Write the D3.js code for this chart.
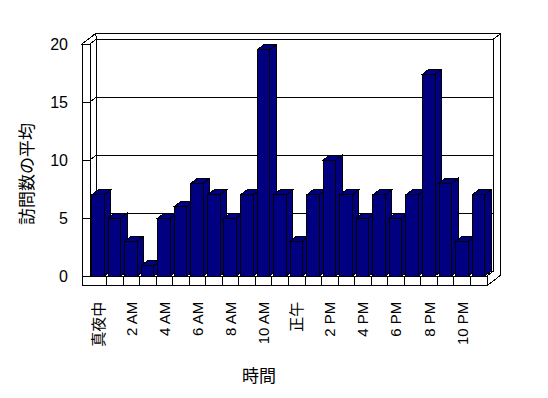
<!DOCTYPE html>
<html>
<head>
<meta charset="utf-8">
<script src="https://cdn.jsdelivr.net/npm/d3@7"></script>
<style>
    body { margin: 0; background: #fff; }
    #chart-area { width: 548px; height: 398px; }
    text { font-family: "Liberation Sans", Arial, "Noto Sans CJK JP", sans-serif; fill: #000; }
    .wall { fill: #fff; stroke: #000; stroke-width: 1; shape-rendering: crispEdges; }
    .grid { stroke: #000; stroke-width: 1; fill: none; shape-rendering: crispEdges; }
    .bar { fill: #000080; stroke: #000; stroke-width: 1; shape-rendering: crispEdges; }
</style>
</head>
<body>
<div id="chart-area"></div>
<script>

// hour categories (only every second one gets a label)
const hours = ["真夜中", "1 AM", "2 AM", "3 AM", "4 AM", "5 AM", "6 AM", "7 AM", "8 AM", "9 AM", "10 AM", "11 AM",
               "正午", "1 PM", "2 PM", "3 PM", "4 PM", "5 PM", "6 PM", "7 PM", "8 PM", "9 PM", "10 PM", "11 PM"];

// average visits per hour
const avgVisits = [7, 5, 3, 0.9, 5, 6, 8, 7, 5, 7, 19.5, 7,
                   3, 7, 10, 7, 5, 7, 5, 7, 17.4, 8, 3, 7];

const yTicks = [0, 5, 10, 15, 20];
const yGrid = [5, 10, 15, 20];
const hourLabels = hours.filter((d, i) => i % 2 === 0);

const yTitle = "訪問数の平均";
const xTitle = "時間";


class BarChart3D {

    constructor(parentElement) {
        this._parentElement = parentElement;
        this.initVis();
    }

    initVis() {
        let vis = this;

        vis.width = 548;
        vis.height = 398;

        vis.svg = d3.select("#" + vis._parentElement).append("svg")
            .attr("width", vis.width)
            .attr("height", vis.height);

        // front plane of the box
        vis.left = 82;      // outer edge of left wall
        vis.wallX = 90;     // inner face of left wall (front)
        vis.right = 487;
        vis.floorTop = 276;
        vis.floorBottom = 285.7;

        // oblique depth offset (front -> back wall inner face)
        vis.dx = 6.5;
        vis.dy = -5;
        vis.thick = 2.1;    // outer face of walls, in depth units

        vis.x = d3.scaleBand()
            .domain(hours)
            .range([vis.wallX, vis.right]);

        vis.y = d3.scaleLinear()
            .domain([0, 20])
            .range([vis.floorTop, 44]);

        vis.updateVis();
    }

    updateVis() {
        let vis = this;
        let dx = vis.dx, dy = vis.dy, t = vis.thick;
        let top = vis.y(20);
        let line = d3.line();

        let walls = vis.svg.append("g").attr("class", "walls");

        // back wall, top face
        walls.append("path").attr("class", "wall")
            .attr("d", line([[vis.left + dx * t, top + dy * t], [vis.right + dx * t, top + dy * t],
                             [vis.right + dx, top + dy], [vis.wallX + dx, top + dy]]) + "Z");
        // back wall, right end
        walls.append("path").attr("class", "wall")
            .attr("d", line([[vis.right + dx, top + dy], [vis.right + dx * t, top + dy * t],
                             [vis.right + dx * t, vis.floorBottom + dy * t], [vis.right, vis.floorBottom],
                             [vis.right, vis.floorTop], [vis.right + dx, vis.floorTop + dy]]) + "Z");
        // back wall, inner face
        walls.append("path").attr("class", "wall")
            .attr("d", line([[vis.wallX + dx, top + dy], [vis.right + dx, top + dy],
                             [vis.right + dx, vis.floorTop + dy], [vis.wallX + dx, vis.floorTop + dy]]) + "Z");
        // left wall, top face
        walls.append("path").attr("class", "wall")
            .attr("d", line([[vis.left, top], [vis.wallX, top], [vis.wallX + dx, top + dy],
                             [vis.left + dx * t, top + dy * t]]) + "Z");
        // left wall, inner face
        walls.append("path").attr("class", "wall")
            .attr("d", line([[vis.wallX, top], [vis.wallX + dx, top + dy],
                             [vis.wallX + dx, vis.floorTop + dy], [vis.wallX, vis.floorTop]]) + "Z");
        // left wall, front edge
        walls.append("rect").attr("class", "wall")
            .attr("x", vis.left).attr("y", top)
            .attr("width", vis.wallX - vis.left).attr("height", vis.floorTop - top);
        // floor, front face
        walls.append("rect").attr("class", "wall")
            .attr("x", vis.left).attr("y", vis.floorTop)
            .attr("width", vis.right - vis.left).attr("height", vis.floorBottom - vis.floorTop);

        // gridlines: front tick on left wall, diagonal on its inner face, then across the back wall
        walls.selectAll("path.grid")
            .data(yGrid)
            .enter().append("path")
            .attr("class", "grid")
            .attr("d", d => line([[vis.left, vis.y(d)], [vis.wallX, vis.y(d)],
                                  [vis.wallX + dx, vis.y(d) + dy], [vis.right + dx, vis.y(d) + dy]]));

        // category dividers on the floor front
        walls.selectAll("line.divider")
            .data(hours.slice(1))
            .enter().append("line")
            .attr("class", "grid divider")
            .attr("x1", d => vis.x(d)).attr("x2", d => vis.x(d))
            .attr("y1", vis.floorTop).attr("y2", vis.floorBottom);

        // bars, left to right so right neighbours cover the side faces
        let bw = vis.x.bandwidth() * 0.76;
        let off = vis.x.bandwidth() * 0.1;

        let bars = vis.svg.append("g").attr("class", "bars")
            .selectAll("g")
            .data(hours.map((h, i) => ({hour: h, value: avgVisits[i]})))
            .enter().append("g");

        bars.append("path").attr("class", "bar")
            .attr("d", d => {
                let x0 = vis.x(d.hour) + off, x1 = x0 + bw, y0 = vis.y(d.value);
                return line([[x1, y0], [x1 + dx, y0 + dy], [x1 + dx, vis.floorTop + dy], [x1, vis.floorTop]]) + "Z";
            });
        bars.append("path").attr("class", "bar")
            .attr("d", d => {
                let x0 = vis.x(d.hour) + off, x1 = x0 + bw, y0 = vis.y(d.value);
                return line([[x0, y0], [x1, y0], [x1 + dx, y0 + dy], [x0 + dx, y0 + dy]]) + "Z";
            });
        bars.append("rect").attr("class", "bar")
            .attr("x", d => vis.x(d.hour) + off)
            .attr("y", d => vis.y(d.value))
            .attr("width", bw)
            .attr("height", d => vis.floorTop - vis.y(d.value));

        // y axis labels
        let yAxis = d3.axisLeft(vis.y).tickValues(yTicks).tickSize(0).tickPadding(2);
        vis.svg.append("g")
            .attr("class", "y-axis")
            .attr("transform", "translate(70,0)")
            .call(yAxis)
            .call(g => g.select(".domain").remove())
            .selectAll("text")
            .attr("font-family", null)
            .style("font-size", "16px")
            .attr("dy", "0.36em");

        // x axis labels, rotated
        let xAxis = d3.axisBottom(vis.x).tickValues(hourLabels).tickSize(0);
        vis.svg.append("g")
            .attr("class", "x-axis")
            .attr("transform", "translate(0," + vis.floorBottom + ")")
            .call(xAxis)
            .call(g => g.select(".domain").remove())
            .selectAll("text")
            .attr("font-family", null)
            .style("font-size", "15px")
            .style("text-anchor", "end")
            .attr("transform", "rotate(-90)")
            .attr("x", -16)
            .attr("y", 0)
            .attr("dy", "0.36em");

        // axis titles
        vis.svg.append("text")
            .attr("transform", "translate(27,174) rotate(-90)")
            .attr("text-anchor", "middle")
            .attr("dy", "0.36em")
            .style("font-size", "17px")
            .text(yTitle);

        vis.svg.append("text")
            .attr("x", 259)
            .attr("y", 376)
            .attr("text-anchor", "middle")
            .attr("dy", "0.36em")
            .style("font-size", "17px")
            .text(xTitle);
    }
}

new BarChart3D("chart-area");
</script>
</body>
</html>
